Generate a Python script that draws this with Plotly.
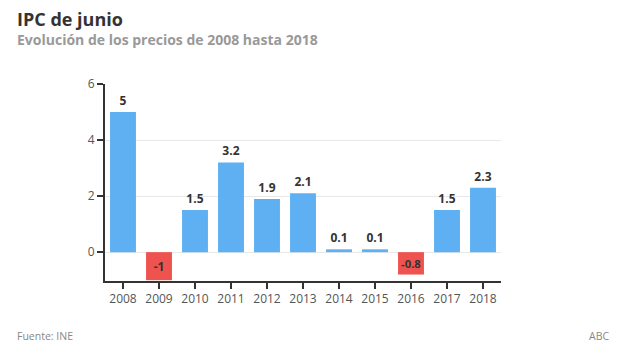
import plotly.graph_objects as go

years = ["2008", "2009", "2010", "2011", "2012", "2013", "2014", "2015", "2016", "2017", "2018"]
values = [5, -1, 1.5, 3.2, 1.9, 2.1, 0.1, 0.1, -0.8, 1.5, 2.3]
labels = ["5", "-1", "1.5", "3.2", "1.9", "2.1", "0.1", "0.1", "-0.8", "1.5", "2.3"]

BLUE = "#5eb0f3"
RED = "#ef5350"
colors = [RED if v < 0 else BLUE for v in values]
positions = ["inside" if v < 0 else "outside" for v in values]

fig = go.Figure()
fig.add_trace(go.Bar(
    x=years, y=values, text=labels, textposition=positions,
    insidetextanchor="middle",
    textfont=dict(family="Open Sans", size=12, color="#333333", weight="bold"),
    marker=dict(color=colors, line=dict(width=0)),
    cliponaxis=False, hoverinfo="skip",
))

fig.update_layout(
    width=620, height=349,
    margin=dict(l=105, r=119, t=84, b=68),
    plot_bgcolor="white", paper_bgcolor="white",
    bargap=0.28, showlegend=False,
    font=dict(family="Open Sans", color="#555555"),
)
fig.update_xaxes(
    type="category", showline=True, linecolor="#333333", linewidth=2,
    ticks="outside", ticklen=6, tickcolor="#333333", tickwidth=1.5,
    tickfont=dict(size=12, color="#555555"), showgrid=False,
)
fig.update_yaxes(
    range=[-1.03, 6], tickvals=[0, 2, 4, 6], showline=True, linecolor="#333333", linewidth=2,
    ticks="outside", ticklen=6, tickcolor="#333333", tickwidth=1.5,
    tickfont=dict(size=12, color="#555555"), showgrid=True, gridcolor="#e8e8e8",
    zeroline=False,
)

H_PLOT = 349 - 84 - 68
W_PLOT = 620 - 105 - 119
def px_x(x): return (x - 105) / W_PLOT
def px_y(y): return (349 - 68 - y) / H_PLOT

fig.add_annotation(text="<b>IPC de junio</b>", xref="paper", yref="paper", x=px_x(15), y=px_y(5),
                   xanchor="left", yanchor="top", showarrow=False, font=dict(size=18, color="#333333"))
fig.add_annotation(text="<b>Evolución de los precios de 2008 hasta 2018</b>", xref="paper", yref="paper",
                   x=px_x(15), y=px_y(28), xanchor="left", yanchor="top", showarrow=False,
                   font=dict(size=14, color="#999999"))
fig.add_annotation(text="Fuente: INE", xref="paper", yref="paper", x=px_x(15), y=px_y(345),
                   xanchor="left", yanchor="bottom", showarrow=False, font=dict(size=10.5, color="#888888"))
fig.add_annotation(text="ABC", xref="paper", yref="paper", x=px_x(611), y=px_y(345),
                   xanchor="right", yanchor="bottom", showarrow=False, font=dict(size=10.5, color="#888888"))

fig.write_html("out.html")
